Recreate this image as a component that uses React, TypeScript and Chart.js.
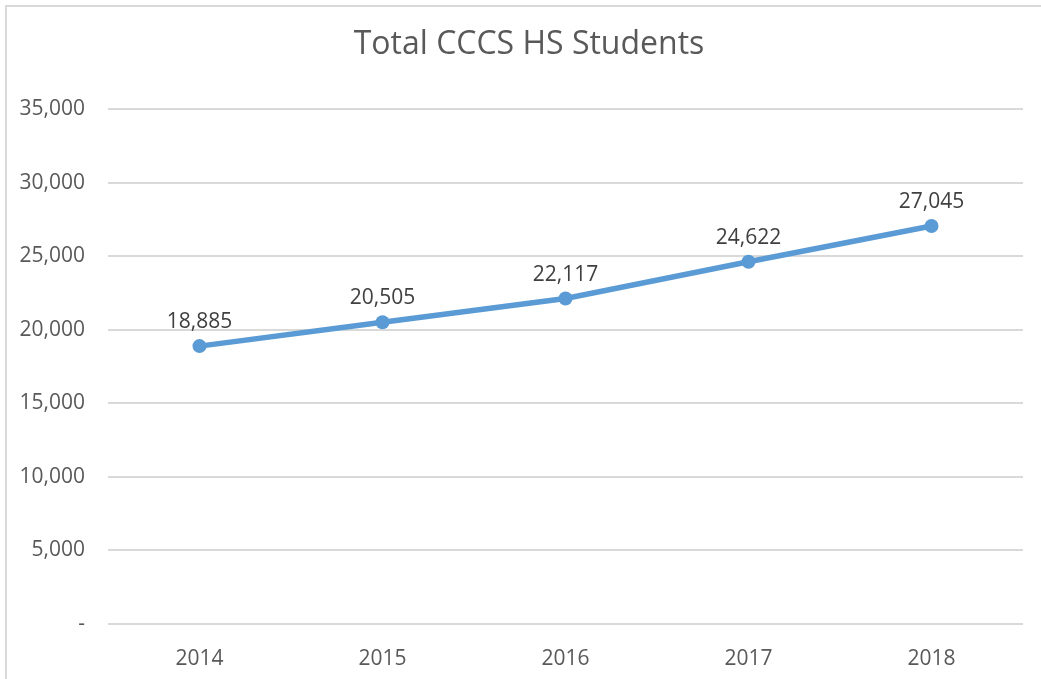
import React, { useEffect, useRef } from "react";
import { Chart, registerables } from "chart.js";

Chart.register(...registerables);

const chartTitle = "Total CCCS HS Students";
const categories = ["2014", "2015", "2016", "2017", "2018"];
const students = [18885, 20505, 22117, 24622, 27045];
const yMin = 0;
const yMax = 35000;
const yStep = 5000;

const FONT = "'Open Sans', 'Liberation Sans', sans-serif";

const fmt = (v: number) => (v === 0 ? "-" : v.toLocaleString("en-US"));

const titlePlugin = {
  id: "customTitle",
  afterDraw(chart: any) {
    const ctx = chart.ctx;
    ctx.save();
    ctx.font = `32px ${FONT}`;
    ctx.fillStyle = "#595959";
    ctx.textAlign = "center";
    ctx.textBaseline = "alphabetic";
    ctx.fillText(chartTitle, chart.width / 2, 54);
    ctx.restore();
  },
};

const labelPlugin = {
  id: "pointLabels",
  afterDatasetsDraw(chart: any) {
    const ctx = chart.ctx;
    const meta = chart.getDatasetMeta(0);
    const data = chart.data.datasets[0].data as number[];
    ctx.save();
    ctx.font = `21px ${FONT}`;
    ctx.fillStyle = "#404040";
    ctx.textAlign = "center";
    ctx.textBaseline = "alphabetic";
    meta.data.forEach((pt: any, i: number) => {
      ctx.fillText(fmt(data[i]), pt.x, pt.y - 18);
    });
    ctx.restore();
  },
};

export default function App() {
  const ref = useRef<HTMLCanvasElement>(null);
  useEffect(() => {
    if (!ref.current) return;
    const chart = new Chart(ref.current, {
      type: "line",
      data: {
        labels: categories,
        datasets: [
          {
            data: students,
            borderColor: "#5b9bd5",
            backgroundColor: "#5b9bd5",
            borderWidth: 5.5,
            pointRadius: 7,
            pointBorderWidth: 0,
            pointBackgroundColor: "#5b9bd5",
            tension: 0,
            fill: false,
          },
        ],
      },
      options: {
        responsive: false,
        animation: false,
        layout: { padding: { top: 109, right: 35, bottom: 0, left: 0 } },
        plugins: {
          legend: { display: false },
          title: { display: false },
          tooltip: { enabled: false },
        },
        scales: {
          x: {
            offset: true,
            grid: { display: false, drawTicks: false },
            border: { display: false },
            ticks: {
              color: "#595959",
              font: { family: FONT, size: 21 },
              padding: 22,
            },
            afterFit: (s: any) => {
              s.height = 55;
            },
          },
          y: {
            min: yMin,
            max: yMax,
            ticks: {
              stepSize: yStep,
              color: "#595959",
              font: { family: FONT, size: 21 },
              padding: 23,
              callback: (v: any) => fmt(Number(v)),
            },
            grid: { color: "#d9d9d9", lineWidth: 2, drawTicks: false },
            border: { display: false },
            afterFit: (s: any) => {
              s.width = 108;
            },
          },
        },
      },
      plugins: [titlePlugin, labelPlugin],
    });
    return () => chart.destroy();
  }, []);

  return (
    <div
      style={{
        position: "fixed",
        left: 0,
        top: 0,
        width: 1041,
        height: 679,
        overflow: "hidden",
        background: "#ffffff",
      }}
    >
      <div
        style={{
          position: "absolute",
          left: 5,
          top: 5,
          width: 1100,
          height: 800,
          border: "2px solid #d9d9d9",
          boxSizing: "border-box",
        }}
      />
      <canvas
        ref={ref}
        width={1058}
        height={679}
        style={{ position: "absolute", left: 0, top: 0 }}
      />
    </div>
  );
}
